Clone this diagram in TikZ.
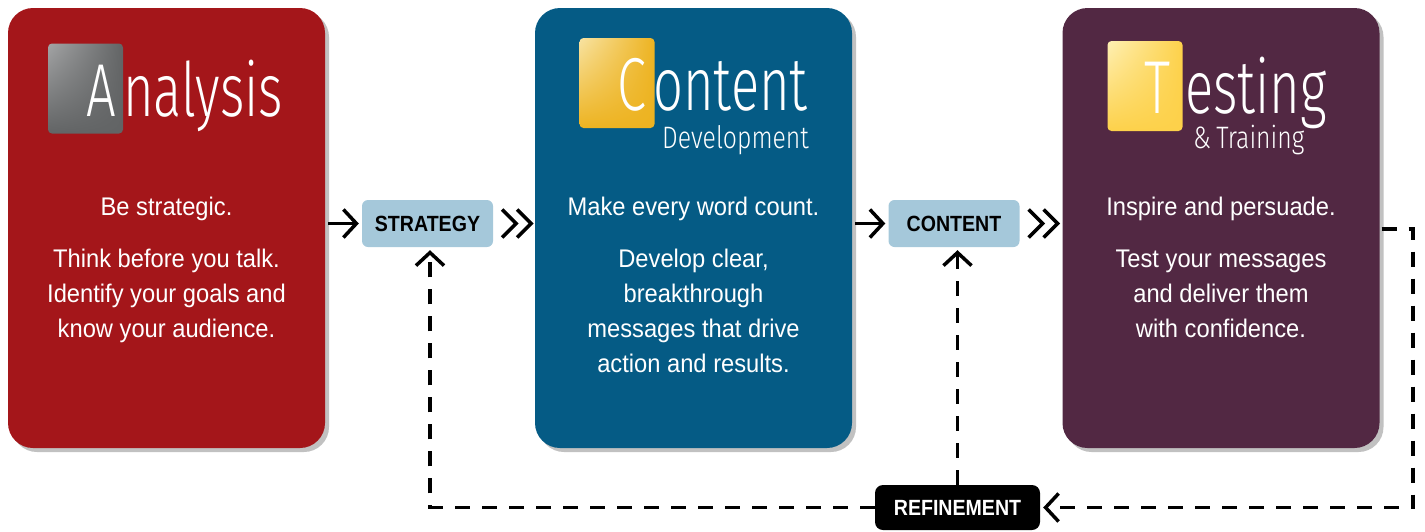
\documentclass[tikz,border=0pt]{standalone}
\usepackage{fontspec}
\setmainfont{Liberation Sans}[FakeStretch=0.93]
\newfontfamily\lblfont{Liberation Sans}[FakeStretch=0.89]
\IfFontExistsTF{Fira Sans Light}{\newfontfamily\ttlfont{Fira Sans Light}[FakeStretch=0.70]}{\newfontfamily\ttlfont{Fira Sans}[FakeStretch=0.70]}
\IfFontExistsTF{Fira Sans Light}{\newfontfamily\ttlsfont{Fira Sans Light}[FakeStretch=0.8]}{\newfontfamily\ttlsfont{Fira Sans}[FakeStretch=0.8]}
\usetikzlibrary{arrows.meta,shadows,calc,shadings}
\definecolor{cred}{HTML}{A4161A}
\definecolor{cblue}{HTML}{055B85}
\definecolor{cpurple}{HTML}{522843}
\definecolor{clbl}{HTML}{A5C8DA}
\definecolor{cgray}{HTML}{626465}
\definecolor{cgrayl}{HTML}{A3A4A5}
\definecolor{cyel}{HTML}{EDB321}
\definecolor{cyell}{HTML}{F8E3A2}
\definecolor{cyel2}{HTML}{FDD14A}
\definecolor{cyel2l}{HTML}{FEF0B4}
\tikzset{
  bigbox/.style={rounded corners=25pt, minimum width=317pt, minimum height=440pt, inner sep=0pt,
    drop shadow={shadow xshift=4pt, shadow yshift=-4pt, opacity=0.35, fill=black!70}},
  iconbox/.style={rounded corners=4pt, minimum width=75pt, minimum height=90pt, inner sep=0pt},
  body/.style={text=white, anchor=base, inner sep=0pt, font=\fontsize{25.5}{30}\selectfont},
  ttlbig/.style={text=white, anchor=base west, inner sep=0pt, text depth=0pt, font=\ttlfont\fontsize{75}{75}\selectfont},
  ttlsmall/.style={text=white, anchor=base west, inner sep=0pt, font=\ttlsfont\fontsize{31}{31}\selectfont},
  lbl/.style={fill=clbl, rounded corners=6pt, minimum width=131pt, minimum height=47pt, inner sep=0pt,
    font=\lblfont\bfseries\fontsize{22}{22}\selectfont},
  tip/.style={-{Straight Barb[length=13pt,width=28pt]}},
  arr/.style={line width=3.5pt, tip},
  chev/.style={line width=3.5pt, miter limit=10},
  dsh/.style={line width=3.5pt, dash pattern=on 15pt off 12pt}
}
\begin{document}
\begin{tikzpicture}[x=1pt,y=-1pt]
\useasboundingbox (0,0) rectangle (1425,531);
% big boxes
\node[bigbox, fill=cred] (ana) at (166.5,228) {};
\node[bigbox, fill=cblue] (con) at (693.5,228) {};
\node[bigbox, fill=cpurple] (tes) at (1221,228) {};
% icons
\node[iconbox, upper left=cgrayl, upper right=cgray, lower left=cgray, lower right=cgray] (iA) at (85.5,88.5) {};
\node[iconbox, upper left=cyell, upper right=cyel, lower left=cyel, lower right=cyel] (iC) at (617,83) {};
\node[iconbox, upper left=cyel2l, upper right=cyel2, lower left=cyel2, lower right=cyel2] (iT) at (1145,86) {};
% titles
\node[ttlbig] (tA1) at (86,116) {A};
\node[ttlbig] (tA2) at (123,116) {nalysis};
\node[ttlbig] (tC1) at (617,110) {C};
\node[ttlbig] (tC2) at (653,110) {ontent};
\node[ttlsmall] (tC3) at (662,148) {Development};
\node[ttlbig] (tT1) at (1144,113) {T};
\node[ttlbig] (tT2) at (1185,113) {esting};
\node[ttlsmall] (tT3) at (1193,148) {\&\,Training};
% body texts
\node[body] (a1) at (166.5,215) {Be strategic.};
\node[body] (a2) at (166.5,267) {Think before you talk.};
\node[body] (a3) at (166.5,302) {Identify your goals and};
\node[body] (a4) at (166.5,337) {know your audience.};
\node[body] (c1) at (693.5,215) {Make every word count.};
\node[body] (c2) at (693.5,267) {Develop clear,};
\node[body] (c3) at (693.5,302) {breakthrough};
\node[body] (c4) at (693.5,337) {messages that drive};
\node[body] (c5) at (693.5,372) {action and results.};
\node[body] (t1) at (1221,215) {Inspire and persuade.};
\node[body] (t2) at (1221,267) {Test your messages};
\node[body] (t3) at (1221,302) {and deliver them};
\node[body] (t4) at (1221,337) {with confidence.};
% labels
\node[lbl] (strategy) at (427.5,223.5) {STRATEGY};
\node[lbl] (content) at (954,223.5) {CONTENT};
\node[lbl, fill=black, text=white, minimum width=165pt, minimum height=45pt, rounded corners=8pt] (refinement) at (957.5,507.5) {REFINEMENT};
% solid arrows
\draw[arr, shorten <=3pt, shorten >=3pt] (ana.east |- strategy.west) -- (strategy.west);
\draw[arr, shorten <=3pt, shorten >=3pt] (con.east |- content.west) -- (content.west);
% double chevrons
\foreach \n in {strategy, content}{
  \draw[chev] ($(\n.east)+(9,-14)$) -- ++(14,14) -- ++(-14,14);
  \draw[chev] ($(\n.east)+(24,-14)$) -- ++(14,14) -- ++(-14,14);
}
% dashed feedback
\coordinate (cl) at (430,0);
\coordinate (cr) at (1413,229);
\draw[dsh, tip, shorten >=3pt] (refinement.west) -- (refinement.west -| cl) -- (cl |- strategy.south);
\draw[dsh, tip, shorten >=3pt] (refinement.north) -- (refinement.north |- content.south);
\draw[dsh, tip, shorten >=3pt] ($(tes.east |- cr)+(2,0)$) -- (cr) -- (cr |- refinement.east) -- (refinement.east);
\end{tikzpicture}
\end{document}
